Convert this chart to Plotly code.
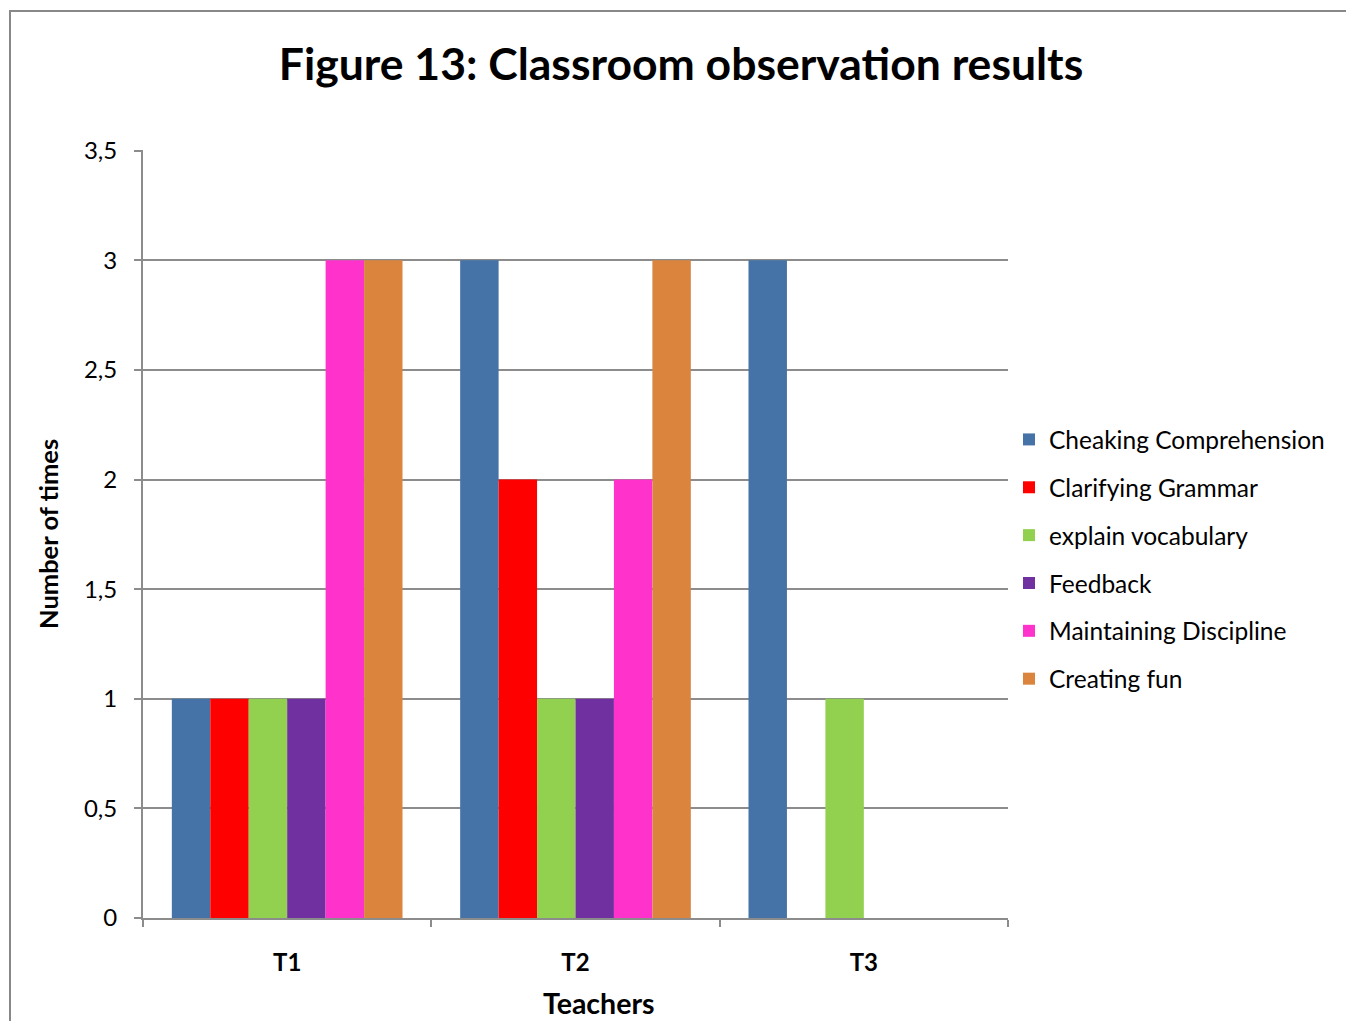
import plotly.graph_objects as go

# Observation counts per teacher for each classroom behaviour
teachers = ["T1", "T2", "T3"]
cheaking_comprehension = [1, 3, 3]
clarifying_grammar = [1, 2, 0]
explain_vocabulary = [1, 1, 1]
feedback = [1, 1, 0]
maintaining_discipline = [3, 2, 0]
creating_fun = [3, 3, 0]

series_names = [
    "Cheaking Comprehension",
    "Clarifying Grammar",
    "explain vocabulary",
    "Feedback",
    "Maintaining Discipline",
    "Creating fun",
]
series_values = [
    cheaking_comprehension,
    clarifying_grammar,
    explain_vocabulary,
    feedback,
    maintaining_discipline,
    creating_fun,
]
colors = ["#4572A7", "#FF0000", "#92D050", "#7030A0", "#FF33CC", "#DB843D"]

y_ticks = [0, 0.5, 1, 1.5, 2, 2.5, 3, 3.5]

FONT = "Lato"
GRID = "#8C8C8C"

fig = go.Figure()
for i, (name, vals, col) in enumerate(zip(series_names, series_values, colors)):
    fig.add_trace(go.Bar(
        x=teachers, y=vals, name=name, legendgroup=f"g{i}",
        marker=dict(color=col, line=dict(width=0)),
    ))

W, H = 1346, 1021
L, R, T, B = 143, 338, 150, 103
pw, ph = W - L - R, H - T - B

fig.update_layout(
    width=W, height=H,
    margin=dict(l=L, r=R, t=T, b=B, pad=0, autoexpand=False),
    paper_bgcolor="white", plot_bgcolor="white",
    separators=", ",
    barmode="group", bargap=0.2, bargroupgap=0,
    font=dict(family=FONT, color="black", size=22),
    title=dict(
        text="<b>Figure 13: Classroom observation results</b>",
        x=681 / W, xanchor="center",
        y=1 - 64 / H, yanchor="middle",
        font=dict(size=44.5, family=FONT, color="black"),
    ),
    showlegend=True,
    legend=dict(
        x=(1009 - L) / pw, xanchor="left", y=(918 - 417) / ph, yanchor="top",
        font=dict(size=24.5, family=FONT, color="black"),
        tracegroupgap=13, itemsizing="constant",
        bgcolor="rgba(0,0,0,0)",
    ),
    xaxis=dict(
        showgrid=False, showline=True, linecolor=GRID, linewidth=2,
        ticks="outside", tickson="boundaries", ticklen=7, tickcolor=GRID, tickwidth=2,
        tickfont=dict(size=24, family=FONT),
        tickprefix="<b>", ticksuffix="</b>",
        ticklabelstandoff=22,
    ),
    yaxis=dict(
        range=[0, 3.503], tickvals=y_ticks,
        showgrid=True, gridcolor=GRID, gridwidth=1.5,
        showline=True, linecolor=GRID, linewidth=2,
        ticks="outside", ticklen=7, tickcolor=GRID, tickwidth=2,
        tickfont=dict(size=24, family=FONT),
        zeroline=False, ticklabelstandoff=12,
    ),
    annotations=[
        dict(text="<b>Number of times</b>", xref="paper", yref="paper",
             x=(48 - L) / pw, y=0.5, textangle=-90, showarrow=False,
             xanchor="center", yanchor="middle", font=dict(size=25.5, family=FONT)),
        dict(text="<b>Teachers</b>", xref="paper", yref="paper",
             x=(599 - L) / pw, y=-(1003 - 918) / ph, showarrow=False,
             xanchor="center", yanchor="middle", font=dict(size=28.5, family=FONT)),
    ],
    shapes=[
        dict(type="rect", xref="paper", yref="paper",
             x0=(10 - L) / pw, x1=(1400 - L) / pw,
             y0=-(1100 - 918) / ph, y1=(918 - 11) / ph,
             line=dict(color="#888888", width=2), fillcolor="rgba(0,0,0,0)", layer="below"),
    ],
)

fig.write_html("out.html")
